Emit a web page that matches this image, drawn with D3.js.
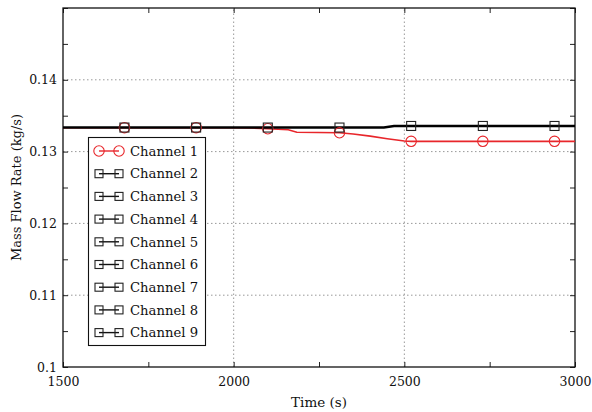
<!DOCTYPE html>
<html><head><meta charset="utf-8">
<script src="https://cdn.jsdelivr.net/npm/d3@7"></script>
<style>body{margin:0;background:#fff}svg{display:block}</style>
</head><body>
<script>
// Data
const time = [1500, 1680, 1890, 2000, 2050, 2100, 2160, 2185, 2310, 2350, 2400, 2450, 2500, 2520, 2730, 2940, 3000];
const channel1 = [0.13333, 0.13333, 0.13333, 0.13333, 0.13328, 0.13318, 0.13305, 0.1327, 0.13262, 0.13245, 0.13215, 0.1318, 0.13148, 0.13143, 0.13143, 0.13143, 0.13143];
const blackTime = [1500, 1680, 1890, 2100, 2310, 2440, 2470, 2520, 2730, 2940, 3000];
const channelOthers = [0.13335, 0.13335, 0.13335, 0.13335, 0.13335, 0.13335, 0.13357, 0.13357, 0.13357, 0.13357, 0.13357];
const markerTimes = [1680, 1890, 2100, 2310, 2520, 2730, 2940];
const seriesNames = ["Channel 1","Channel 2","Channel 3","Channel 4","Channel 5","Channel 6","Channel 7","Channel 8","Channel 9"];
const xTicks = [1500, 2000, 2500, 3000];
const yTicks = [0.1, 0.11, 0.12, 0.13, 0.14];

const FONT = "'DejaVu Serif', 'Liberation Serif', serif";
const W = 592, H = 412;
const m = {l: 63, r: 17, t: 8, b: 45};
const svg = d3.select("body").append("svg").attr("width", W).attr("height", H);
const x = d3.scaleLinear().domain([1500, 3000]).range([m.l, W - m.r]);
const y = d3.scaleLinear().domain([0.1, 0.15]).range([H - m.b, m.t]);
const RED = "#e8262b";

// grid
const g = svg.append("g");
g.selectAll(".gx").data([2000, 2500]).enter().append("line")
  .attr("x1", d => x(d)).attr("x2", d => x(d)).attr("y1", y(0.1)).attr("y2", y(0.15))
  .attr("stroke", "#999").attr("stroke-dasharray", "1.5,2.5");
g.selectAll(".gy").data([0.11, 0.12, 0.13, 0.14]).enter().append("line")
  .attr("y1", d => y(d)).attr("y2", d => y(d)).attr("x1", x(1500)).attr("x2", x(3000))
  .attr("stroke", "#999").attr("stroke-dasharray", "1.5,2.5");

// axes with inward ticks
const xMinor = d3.range(1500, 3001, 250);
const yMinor = d3.range(0, 11).map(i => 0.1 + i * 0.005);
const axB = d3.axisBottom(x).tickValues(xMinor).tickSize(-5).tickFormat("");
const axT = d3.axisTop(x).tickValues(xMinor).tickSize(-5).tickFormat("");
const axL = d3.axisLeft(y).tickValues(yMinor).tickSize(-5).tickFormat("");
const axR = d3.axisRight(y).tickValues(yMinor).tickSize(-5).tickFormat("");
[[axB, `translate(0,${y(0.1)})`], [axT, `translate(0,${y(0.15)})`], [axL, `translate(${x(1500)},0)`], [axR, `translate(${x(3000)},0)`]].forEach(([a, t]) => {
  const gg = svg.append("g").attr("transform", t).call(a);
  gg.select(".domain").remove();
  gg.selectAll("line").attr("stroke", "#222");
});
// tick labels
const xl = d3.axisBottom(x).tickValues(xTicks).tickSize(0).tickPadding(10).tickFormat(d3.format("d"));
const xg = svg.append("g").attr("transform", `translate(0,${y(0.1)})`).call(xl).attr("font-family", FONT).attr("font-size", 12.5);
xg.select(".domain").remove();
xg.selectAll("text").attr("fill", "#111");
const yl = d3.axisLeft(y).tickValues(yTicks).tickSize(0).tickPadding(6).tickFormat(d => d === 0.1 ? "0.1" : d3.format(".2f")(d));
const yg = svg.append("g").attr("transform", `translate(${x(1500)},0)`).call(yl).attr("font-family", FONT).attr("font-size", 12.5);
yg.select(".domain").remove();
yg.selectAll("text").attr("fill", "#111");

// frame
svg.append("rect").attr("x", x(1500)).attr("y", y(0.15)).attr("width", x(3000) - x(1500)).attr("height", y(0.1) - y(0.15))
  .attr("fill", "none").attr("stroke", "#111").attr("stroke-width", 1.3);

// lines
const line = d3.line().x(d => x(d[0])).y(d => y(d[1]));
const blackData = blackTime.map((t, i) => [t, channelOthers[i]]);
const redData = time.map((t, i) => [t, channel1[i]]);
svg.append("path").attr("d", line(redData)).attr("fill", "none").attr("stroke", RED).attr("stroke-width", 1.6);
svg.append("path").attr("d", line(blackData)).attr("fill", "none").attr("stroke", "#000").attr("stroke-width", 2.6);
// markers
const redMarks = redData.filter(d => markerTimes.includes(d[0]));
svg.selectAll(".cm").data(redMarks).enter().append("circle")
  .attr("cx", d => x(d[0])).attr("cy", d => y(d[1])).attr("r", 5.2)
  .attr("fill", "none").attr("stroke", RED).attr("stroke-width", 1.1);
const blackMarks = blackData.filter(d => markerTimes.includes(d[0]));
svg.selectAll(".sm").data(blackMarks).enter().append("rect")
  .attr("x", d => x(d[0]) - 4.5).attr("y", d => y(d[1]) - 4.5).attr("width", 9).attr("height", 9)
  .attr("fill", "none").attr("stroke", "#222").attr("stroke-width", 1.1);

// legend
const lg = svg.append("g").attr("font-family", FONT);
lg.append("rect").attr("x", 88.5).attr("y", 137.5).attr("width", 117).attr("height", 208)
  .attr("fill", "#fff").attr("stroke", "#111").attr("stroke-width", 1.1);
seriesNames.forEach((n, i) => {
  const cy = 151 + i * 22.7;
  const gi = lg.append("g");
  if (i === 0) {
    gi.append("line").attr("x1", 99).attr("x2", 119).attr("y1", cy).attr("y2", cy).attr("stroke", RED).attr("stroke-width", 1.4);
    [99, 119].forEach(cx => gi.append("circle").attr("cx", cx).attr("cy", cy).attr("r", 5.2).attr("fill", "none").attr("stroke", RED).attr("stroke-width", 1.1));
  } else {
    gi.append("line").attr("x1", 99).attr("x2", 119).attr("y1", cy).attr("y2", cy).attr("stroke", "#111").attr("stroke-width", 1.4);
    [99, 119].forEach(cx => gi.append("rect").attr("x", cx - 4).attr("y", cy - 4).attr("width", 8).attr("height", 8).attr("fill", "none").attr("stroke", "#222").attr("stroke-width", 1.1));
  }
  gi.append("text").attr("x", 130).attr("y", cy + 4.7).attr("font-size", 13.2).attr("fill", "#111").text(n);
});

// axis titles
svg.append("text").attr("font-family", FONT).attr("fill", "#111").attr("x", (x(1500) + x(3000)) / 2).attr("y", 407).attr("text-anchor", "middle").attr("font-size", 13.5).text("Time (s)");
svg.append("text").attr("font-family", FONT).attr("fill", "#111").attr("transform", `translate(21,${(y(0.1) + y(0.15)) / 2}) rotate(-90)`).attr("text-anchor", "middle").attr("font-size", 13).text("Mass Flow Rate (kg/s)");
</script>
</body></html>
